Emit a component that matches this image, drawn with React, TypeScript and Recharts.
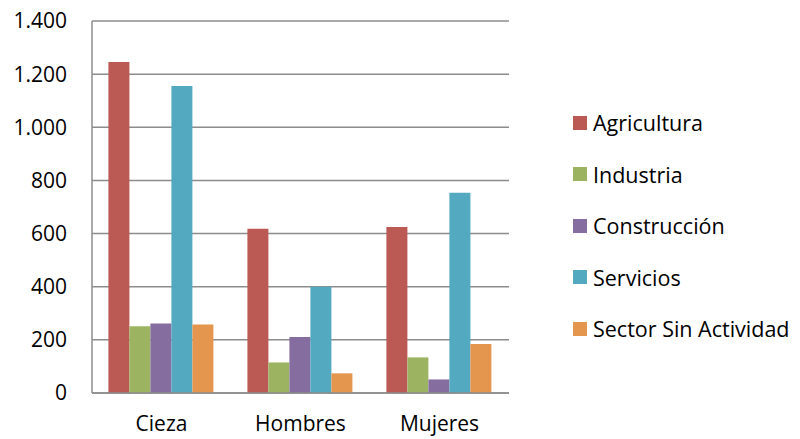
import { BarChart, Bar, XAxis, YAxis, CartesianGrid, Legend } from 'recharts'

const categories = ['Cieza', 'Hombres', 'Mujeres']
const agricultura = [1246, 618, 625]
const industria = [251, 115, 134]
const construccion = [262, 211, 51]
const servicios = [1155, 400, 754]
const sinActividad = [258, 74, 184]
const yTicks = [0, 200, 400, 600, 800, 1000, 1200, 1400]

const series = [
  { key: 'agricultura', name: 'Agricultura', color: '#BB5A55', values: agricultura },
  { key: 'industria', name: 'Industria', color: '#9CB462', values: industria },
  { key: 'construccion', name: 'Construcción', color: '#856E9F', values: construccion },
  { key: 'servicios', name: 'Servicios', color: '#52A9C0', values: servicios },
  { key: 'sinActividad', name: 'Sector Sin Actividad', color: '#E4964F', values: sinActividad },
]

const data = categories.map((cat, i) => {
  const row: Record<string, string | number> = { category: cat }
  series.forEach((s) => {
    row[s.key] = s.values[i]
  })
  return row
})

const fmt = (v: number) => String(v).replace(/\B(?=(\d{3})+(?!\d))/g, '.')

const font = '"Open Sans", sans-serif'

function LegendBox() {
  return (
    <div style={{ fontFamily: font }}>
      {series.map((s) => (
        <div key={s.key} style={{ display: 'flex', alignItems: 'center', height: 51.5 }}>
          <span style={{ width: 14, height: 14, background: s.color, marginRight: 6, flexShrink: 0 }} />
          <span style={{ fontSize: 21.5, color: '#000', whiteSpace: 'nowrap' }}>{s.name}</span>
        </div>
      ))}
    </div>
  )
}

export default function App() {
  return (
    <div style={{ position: 'absolute', left: 0, top: 0, background: '#fff' }}>
      <BarChart
        width={800}
        height={439}
        data={data}
        margin={{ top: 21, right: 64, left: 0, bottom: 0 }}
        barCategoryGap="11.8%"
        barGap={0}
      >
        <CartesianGrid vertical={false} stroke="#8C8C8C" strokeWidth={1.5} />
        <XAxis
          dataKey="category"
          height={46}
          interval={0}
          tickLine={false}
          axisLine={{ stroke: '#8C8C8C', strokeWidth: 1.5 }}
          tick={{ fill: '#000', fontSize: 21, fontFamily: font }}
          tickMargin={17}
        />
        <YAxis
          width={92}
          domain={[0, 1400]}
          ticks={yTicks}
          tickFormatter={fmt}
          tickLine={false}
          axisLine={{ stroke: '#8C8C8C', strokeWidth: 1.5 }}
          tick={{ fill: '#000', fontSize: 21, fontFamily: font }}
          tickMargin={19}
        />
        <Legend
          layout="vertical"
          align="right"
          verticalAlign="top"
          content={() => <LegendBox />}
          wrapperStyle={{ left: 573, top: 97, width: 227 }}
        />
        {series.map((s) => (
          <Bar key={s.key} dataKey={s.key} name={s.name} fill={s.color} isAnimationActive={false} />
        ))}
      </BarChart>
    </div>
  )
}
